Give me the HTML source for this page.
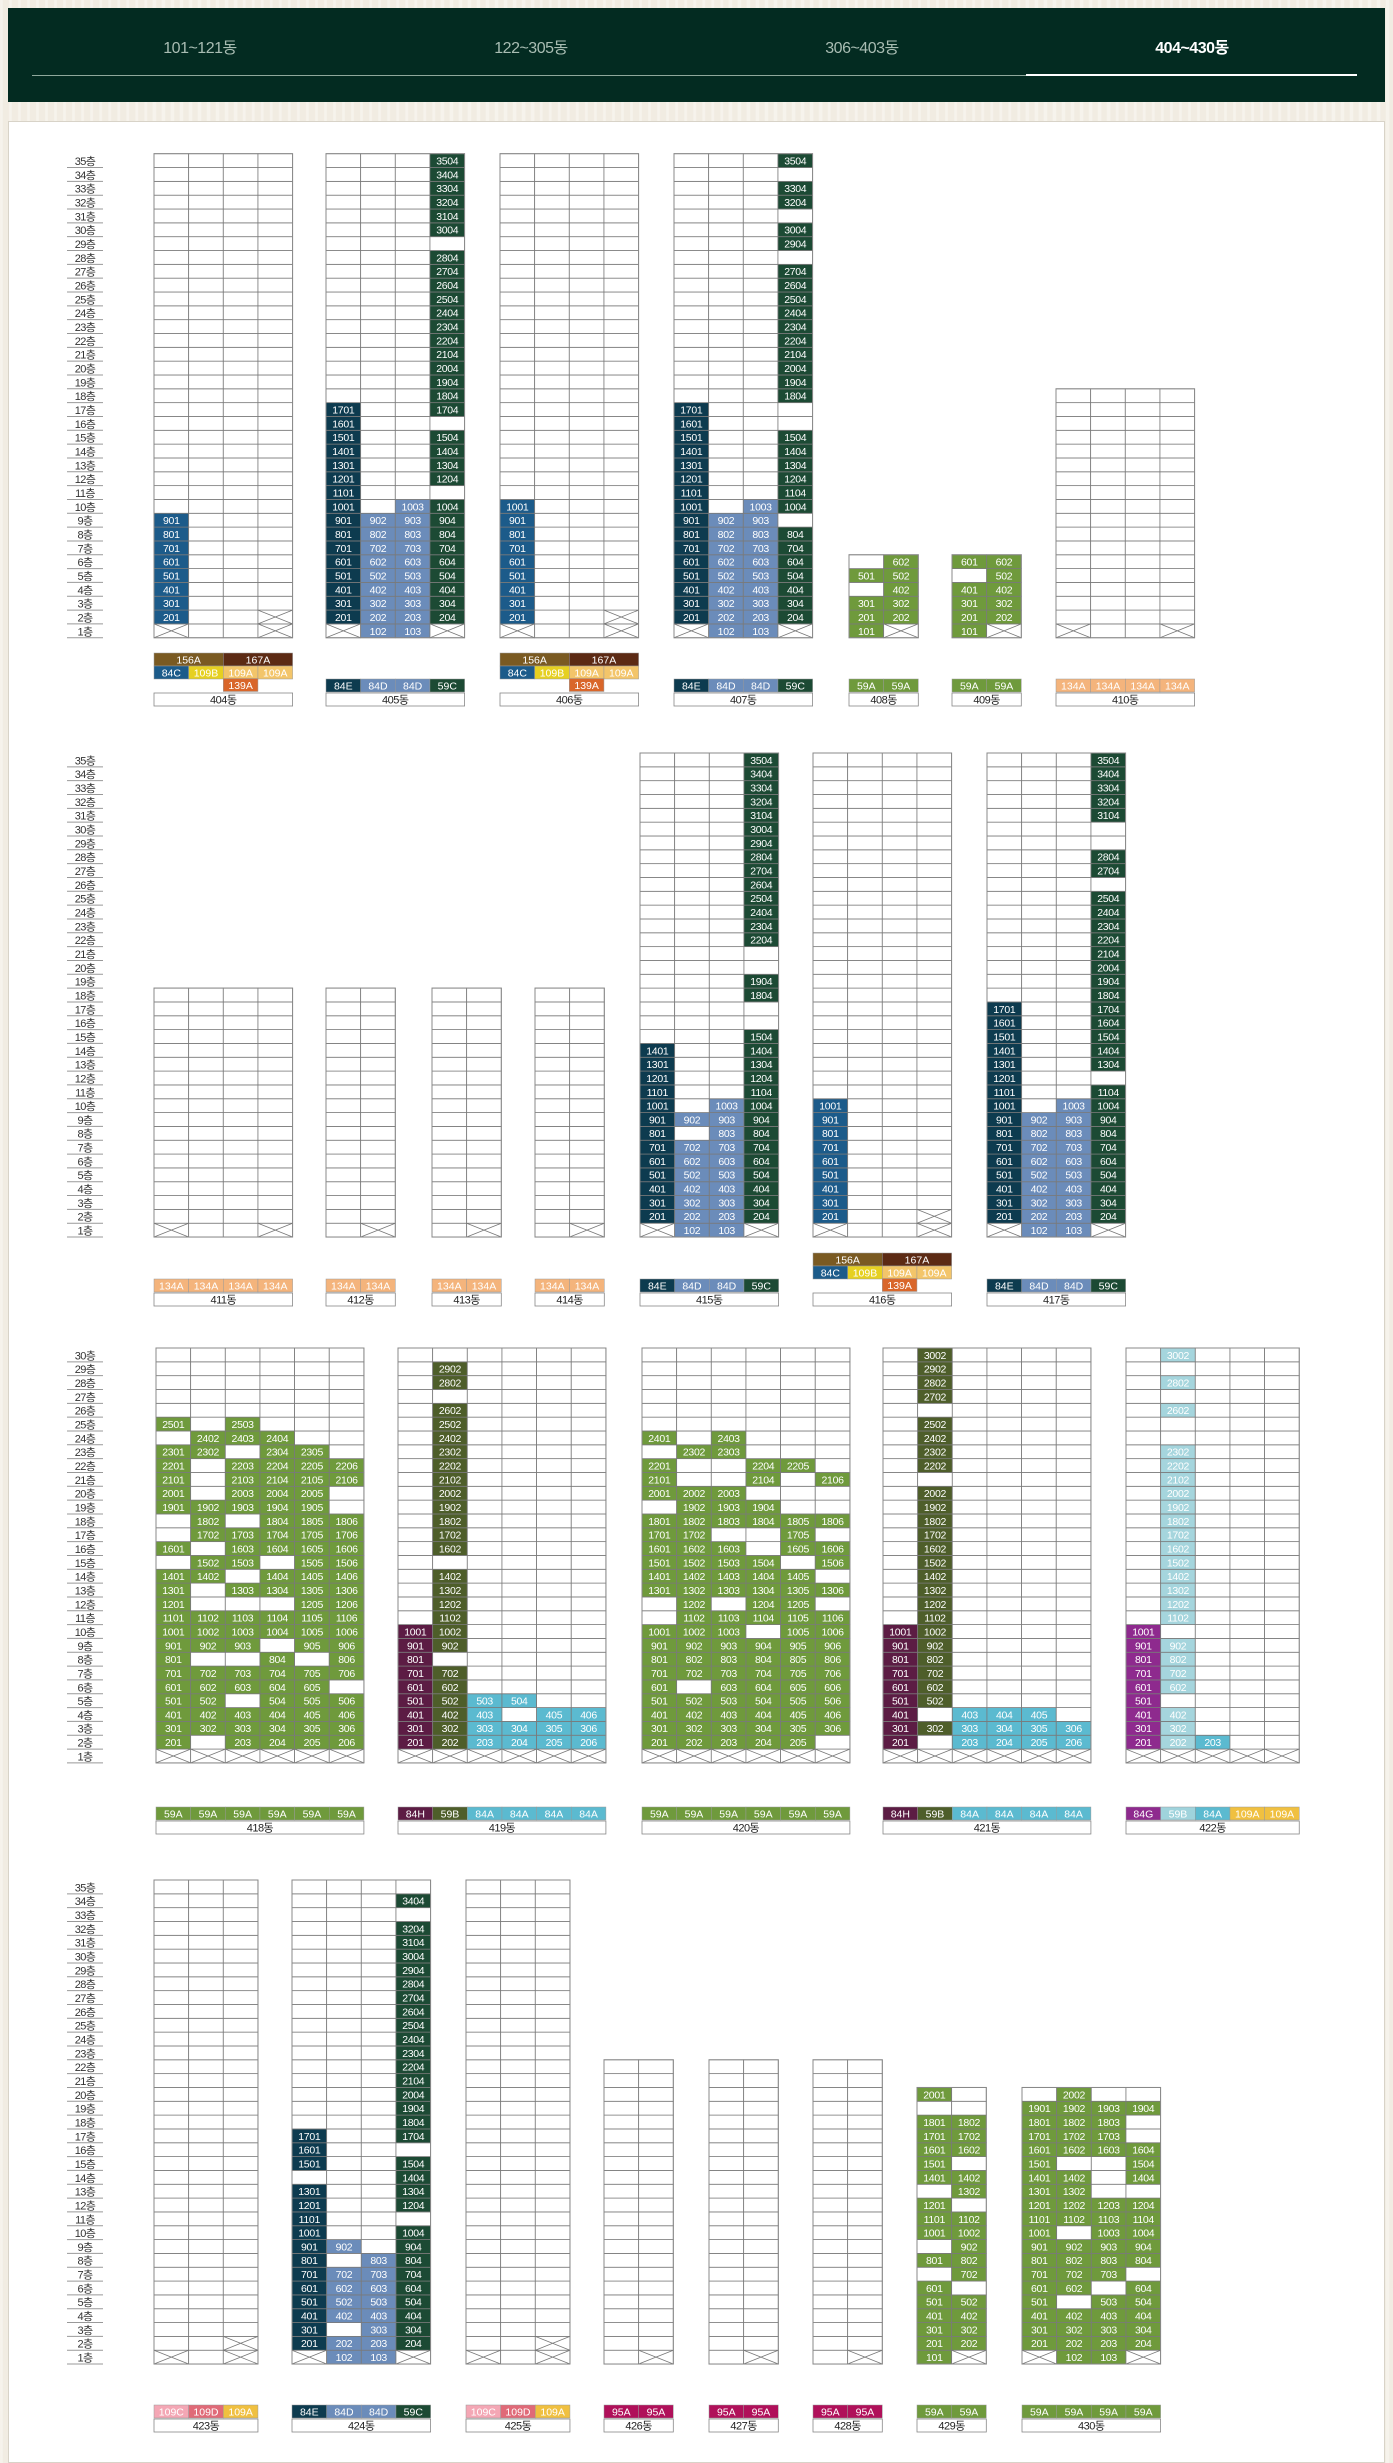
<!DOCTYPE html>
<html lang="ko">
<head>
<meta charset="utf-8">
<style>
  html,body{margin:0;padding:0;}
  body{width:1393px;height:2456px;overflow:hidden;position:relative;
    background:#f1ece2;
    background-image:repeating-linear-gradient(90deg,rgba(255,255,255,0.35) 0 3px,rgba(0,0,0,0) 3px 9px);
    font-family:"Liberation Sans","Noto Sans CJK KR",sans-serif;}
  #header{position:absolute;left:8px;top:8px;width:1377px;height:94px;background:#032b21;}
  .tab{position:absolute;top:26px;width:332px;text-align:center;font-size:16px;color:#a9bdb3;
    font-family:"Liberation Sans Narrow","Liberation Sans","Noto Sans CJK KR",sans-serif;letter-spacing:-0.5px;}
  .tab.active{color:#fff;font-weight:bold;}
  #tabline{position:absolute;left:24px;top:67px;width:1325px;height:1px;background:#8fa89c;}
  #tabactive{position:absolute;left:1018px;top:66px;width:331px;height:2px;background:#fff;}
  #panel{position:absolute;left:8px;top:121px;width:1375px;height:2340px;background:#fff;border:1px solid #d8d3c8;}
  #chart{position:absolute;left:0;top:0;}
</style>
</head>
<body>
<div id="header">
  <div class="tab" style="left:26px">101~121동</div>
  <div class="tab" style="left:357px">122~305동</div>
  <div class="tab" style="left:688px">306~403동</div>
  <div class="tab active" style="left:1018px">404~430동</div>
  <div id="tabline"></div>
  <div id="tabactive"></div>
</div>
<div id="panel"></div>
<svg id="chart" width="1393" height="2456" xmlns="http://www.w3.org/2000/svg"></svg>
<script>
// ---- data ----
const sectionTops = [153.7, 753, 1348, 1880];
const sectionFloors = [35, 35, 30, 35];
const legendY = [679, 1279, 1807, 2405];

const colorCodes = {E:'#0d3b4f', D:'#6b8cba', C:'#1c4a34', c:'#1c5b8a', G:'#6f9a3c', B:'#4e5e2a',
  H:'#5c1c44', a:'#5bbad0', P:'#8e2a8e', p:'#a5d5dd'};
const legendColors = {'156A':'#7a5a22','167A':'#5c2a14','84C':'#1c5b8a','109B':'#e6d020','109A':'#f3c56a',
  '139A':'#d9662a','84E':'#0d3b4f','84D':'#6b8cba','59C':'#1c4a34','59A':'#6f9a3c','134A':'#f4b47c',
  '84H':'#5c1c44','59B':'#4e5e2a','84A':'#5bbad0','84G':'#8e2a8e','59Bp':'#9fd3dc','109Ay':'#f0c040',
  '109C':'#f4a7b5','109D':'#e06a78','95A':'#b0105a'};

// building definitions: section, x, floor count, column RLE (bottom->top) or rows (top->bottom)
const buildingNames = ['404동','405동','406동','407동','408동','409동','410동',
  '411동','412동','413동','414동','415동','416동','417동',
  '418동','419동','420동','421동','422동',
  '423동','424동','425동','426동','427동','428동','429동','430동'];
const buildingSection = [0,0,0,0,0,0,0, 1,1,1,1,1,1,1, 2,2,2,2,2, 3,3,3,3,3,3,3,3];
const buildingX = [154,326,500,674,849,952,1056, 154,326,432,535,640,813,987, 156,398,642,883,1126, 154,292,466,604,709,813,917,1022];
const buildingFloors = [35,35,35,35,6,6,18, 18,18,18,18,35,35,35, 30,30,30,30,30, 35,35,35,22,22,22,20,20];
const buildingCols = [
  ['x1c8.26','.35','.35','x2.33'],
  ['x1E16.18','D9.26','D10.25','x1C9.1C4.1C12.1C6'],
  ['x1c9.25','.35','.35','x2.33'],
  ['x1E16.18','D9.26','D10.25','x1C7.1C6.2C10.1C2.1C2.1C1'],
  ['G3.1G1.1','x1G5'],
  ['G4.1G1','x1G5'],
  ['x1.17','.18','.18','x1.17'],
  ['x1.17','.18','.18','x1.17'],
  ['.18','x1.17'],['.18','x1.17'],['.18','x1.17'],
  ['x1E13.21','D7.1D1.26','D10.25','x1C14.2C2.2C14'],
  ['x1c9.25','.35','.35','x2.33'],
  ['x1E16.18','D9.26','D10.25','x1C10.1C13.1C2.2C5'],
  null,
  ['x1H9.20','x1B6.1B6.1B11.1B2.1','x1a4.25','x1a2.1a1.25','x1a3.26','x1a3.26'],
  null,
  ['x1H9.20','x1.1B1.1B16.1B4.1B4','x1a3.26','x1a3.26','x1a3.26','x1a2.27'],
  ['x1P9.20','x1p3.1p4.1p13.2p1.1p1.1p1','x1a1.28','x1.29','x1.29'],
  ['x1.34','.35','x2.33'],
  ['x1E12.1E3.18','D2.1D4.1D1.26','D8.27','x1C9.1C4.1C16.1C1.1'],
  ['x1.34','.35','x2.33'],
  ['.22','x1.21'],['.22','x1.21'],['.22','x1.21'],
  ['G6.1G1.1G3.1G5.1G1','x1G4.1G5.1G2.1G3.2'],
  null
];
const rows418 = ['......','......','......','......','......',
  'G.G...','.GGG..','GG.GG.','G.GGGG','G.GGGG','G.GGG.','GGGGG.','.G.GGG','.GGGGG','G.GGGG',
  '.GG.GG','GG.GGG','G.GGGG','G...GG','GGGGGG','GGGGGG','GGG.GG','G..G.G','GGGGGG','GGGGG.',
  'GG.GGG','GGGGGG','GGGGGG','G.GGGG','xxxxxx'];
const rows420 = ['......','......','......','......','......','......',
  'G.G...','.GG...','G..GG.','G..G.G','GGG...','.GGG..','GGGGGG','GG..G.','GGG.GG','GGGG.G',
  'GGGGG.','GGGGGG','.G.GG.','.GGGGG','GGG.GG','GGGGGG','GGGGGG','GGGGGG','G.GGGG',
  'GGGGGG','GGGGGG','GGGGGG','GGGGG.','xxxxxx'];
const rows430 = ['.G..','GGGG','GGG.','GGG.','GGGG','G..G','GG.G','GG..','GGGG','GGGG','G.GG',
  'GGGG','GGGG','GGG.','GG.G','G.GG','GGGG','GGGG','GGGG','xGGx'];
const buildingRows = {14:rows418, 16:rows420, 26:rows430};

// legends: rows of [label, colorKey, span]; rowOffset = rows above main legend row
const buildingLegends = [
  [[['156A','156A',2],['167A','167A',2]],[['84C','84C',1],['109B','109B',1],['109A','109A',1],['109A','109A',1]],[['','',2],['139A','139A',1]]],
  [[['84E','84E',1],['84D','84D',1],['84D','84D',1],['59C','59C',1]]],
  [[['156A','156A',2],['167A','167A',2]],[['84C','84C',1],['109B','109B',1],['109A','109A',1],['109A','109A',1]],[['','',2],['139A','139A',1]]],
  [[['84E','84E',1],['84D','84D',1],['84D','84D',1],['59C','59C',1]]],
  [[['59A','59A',1],['59A','59A',1]]],
  [[['59A','59A',1],['59A','59A',1]]],
  [[['134A','134A',1],['134A','134A',1],['134A','134A',1],['134A','134A',1]]],
  [[['134A','134A',1],['134A','134A',1],['134A','134A',1],['134A','134A',1]]],
  [[['134A','134A',1],['134A','134A',1]]],
  [[['134A','134A',1],['134A','134A',1]]],
  [[['134A','134A',1],['134A','134A',1]]],
  [[['84E','84E',1],['84D','84D',1],['84D','84D',1],['59C','59C',1]]],
  [[['156A','156A',2],['167A','167A',2]],[['84C','84C',1],['109B','109B',1],['109A','109A',1],['109A','109A',1]],[['','',2],['139A','139A',1]]],
  [[['84E','84E',1],['84D','84D',1],['84D','84D',1],['59C','59C',1]]],
  [[['59A','59A',1],['59A','59A',1],['59A','59A',1],['59A','59A',1],['59A','59A',1],['59A','59A',1]]],
  [[['84H','84H',1],['59B','59B',1],['84A','84A',1],['84A','84A',1],['84A','84A',1],['84A','84A',1]]],
  [[['59A','59A',1],['59A','59A',1],['59A','59A',1],['59A','59A',1],['59A','59A',1],['59A','59A',1]]],
  [[['84H','84H',1],['59B','59B',1],['84A','84A',1],['84A','84A',1],['84A','84A',1],['84A','84A',1]]],
  [[['84G','84G',1],['59B','59Bp',1],['84A','84A',1],['109A','109Ay',1],['109A','109Ay',1]]],
  [[['109C','109C',1],['109D','109D',1],['109A','109Ay',1]]],
  [[['84E','84E',1],['84D','84D',1],['84D','84D',1],['59C','59C',1]]],
  [[['109C','109C',1],['109D','109D',1],['109A','109Ay',1]]],
  [[['95A','95A',1],['95A','95A',1]]],
  [[['95A','95A',1],['95A','95A',1]]],
  [[['95A','95A',1],['95A','95A',1]]],
  [[['59A','59A',1],['59A','59A',1]]],
  [[['59A','59A',1],['59A','59A',1],['59A','59A',1],['59A','59A',1]]]
];

// ---- drawing ----
const ROW = 13.83, COLW = 34.65, LROW = 13;
const NS = 'http://www.w3.org/2000/svg';
const svg = document.getElementById('chart');
function mk(tag, attrs, parent){const e=document.createElementNS(NS,tag);for(const k in attrs)e.setAttribute(k,attrs[k]);(parent||svg).appendChild(e);return e;}
function rle(s){const out=[];s.replace(/([a-zA-Z.])(\d+)/g,(m,c,n)=>{for(let i=0;i<+n;i++)out.push(c);});return out;}

// floor labels
sectionTops.forEach((top, si) => {
  const g = mk('g', {});
  
  
  const n = sectionFloors[si];
  for (let k = 0; k < n; k++) {
    const f = n - k, y = top + k*ROW;
    const t = mk('text', {x:85, y:y+ROW-2.5, 'font-size':11, 'text-anchor':'middle', fill:'#333',
      'font-family':'"Liberation Sans Narrow","Liberation Sans","Noto Sans CJK KR",sans-serif', 'letter-spacing':'-0.6'}, g);
    t.textContent = f + '층';
    
    
    mk('line', {x1:67, x2:103, y1:y+ROW, y2:y+ROW, stroke:'#999', 'stroke-width':1}, g);
  }
});

buildingNames.forEach((name, bi) => {
  const si = buildingSection[bi];
  const bottom = sectionTops[si] + sectionFloors[si]*ROW;
  const bx = buildingX[bi], nf = buildingFloors[bi];
  let grid; // grid[col][floorIdx] floorIdx 0 = floor1
  if (buildingCols[bi]) grid = buildingCols[bi].map(rle);
  else {
    const rows = buildingRows[bi], nc = rows[0].length;
    grid = [];
    for (let c = 0; c < nc; c++) { grid.push([]); for (let f = 0; f < nf; f++) grid[c].push(rows[nf-1-f][c]); }
  }
  const nc = grid.length;
  const g = mk('g', {});
  
  
  for (let c = 0; c < nc; c++) {
    for (let f = 0; f < nf; f++) {
      const code = grid[c][f] || '.';
      const x = bx + c*COLW, y = bottom - (f+1)*ROW;
      const fill = colorCodes[code] || '#fff';
      const r = mk('rect', {x:x, y:y, width:COLW, height:ROW, fill:fill, stroke:'#7a7a7a', 'stroke-width':0.8}, g);
      
      
      if (code === 'x') {
        mk('path', {d:`M${x} ${y}L${x+COLW} ${y+ROW}M${x+COLW} ${y}L${x} ${y+ROW}`, stroke:'#777', 'stroke-width':0.8, fill:'none'}, g);
      } else if (colorCodes[code]) {
        const t = mk('text', {x:x+COLW/2, y:y+ROW-3, 'font-size':10.5, 'text-anchor':'middle', fill:'#fff',
          'font-family':'"Liberation Sans Narrow","Liberation Sans",sans-serif', 'letter-spacing':'-0.3'}, g);
        t.textContent = String((f+1)*100 + c + 1);
        
        
      }
    }
  }
  mk('rect', {x:bx, y:bottom-nf*ROW, width:nc*COLW, height:nf*ROW, fill:'none', stroke:'#888', 'stroke-width':1}, g);

  // legend
  const leg = buildingLegends[bi];
  const lg = mk('g', {});
  
  
  const ly0 = legendY[si];
  const rowYs = leg.length === 3 ? [ly0-26, ly0-13, ly0-0.5] : [ly0];
  leg.forEach((row, ri) => {
    let cx = bx;
    row.forEach(([label, key, span]) => {
      const w = span*COLW;
      if (label) {
        const r = mk('rect', {x:cx, y:rowYs[ri], width:w, height:LROW, fill:legendColors[key], stroke:'#999', 'stroke-width':0.5}, lg);
        
        
        const t = mk('text', {x:cx+w/2, y:rowYs[ri]+LROW-2.5, 'font-size':10.5, 'text-anchor':'middle', fill:'#fff',
          'font-family':'"Liberation Sans Narrow","Liberation Sans",sans-serif'}, lg);
        t.textContent = label;
        
        
      }
      cx += w;
    });
  });
  const nb = mk('rect', {x:bx, y:ly0+LROW+1, width:nc*COLW, height:13, fill:'#fff', stroke:'#888', 'stroke-width':0.8}, lg);
  
  
  const nt = mk('text', {x:bx+nc*COLW/2, y:ly0+LROW+11.5, 'font-size':11, 'text-anchor':'middle', fill:'#222',
    'font-family':'"Liberation Sans","Noto Sans CJK KR",sans-serif', 'letter-spacing':'-0.5'}, lg);
  nt.textContent = name;
  
  
});
</script>
</body>
</html>
